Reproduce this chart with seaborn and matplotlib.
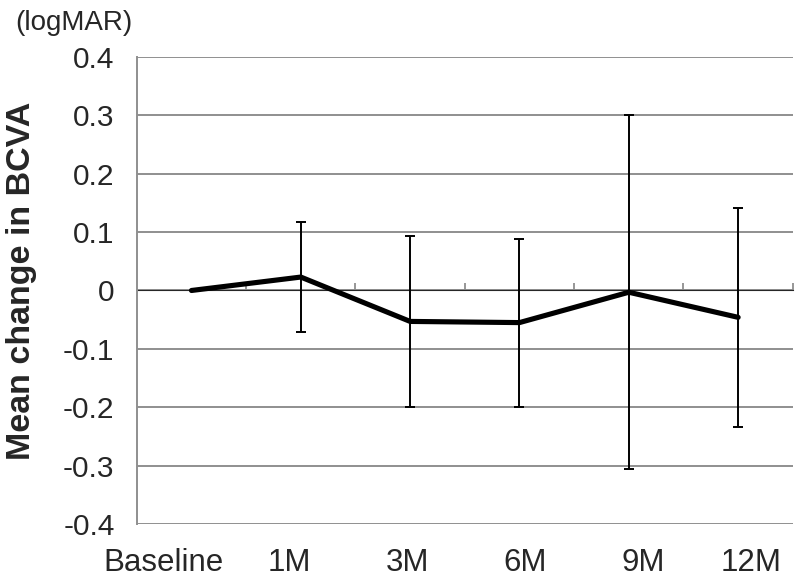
import numpy as np
import pandas as pd
import matplotlib
matplotlib.use("Agg")
import matplotlib.pyplot as plt
import seaborn as sns

# Values
timepoints = ["Baseline", "1M", "3M", "6M", "9M", "12M"]
mean_change = [0.0, 0.023, -0.053, -0.055, -0.003, -0.046]
sd = [np.nan, 0.094, 0.146, 0.144, 0.303, 0.188]
y_ticks = [0.4, 0.3, 0.2, 0.1, 0, -0.1, -0.2, -0.3, -0.4]
y_tick_labels = ["0.4", "0.3", "0.2", "0.1", "0", "-0.1", "-0.2", "-0.3", "-0.4"]

# the category labels in the original are not centred under their points
label_shift = [-0.26, -0.10, -0.02, 0.05, 0.13, 0.12]

df = pd.DataFrame({"time": timepoints, "change": mean_change, "sd": sd})
df["pos"] = range(len(df))

sns.set_style("white")
plt.rcParams["font.family"] = ["Liberation Sans", "DejaVu Sans"]

fig = plt.figure(figsize=(8, 5.79), dpi=100)
ax = fig.add_axes([0.171, 0.095, 0.82, 0.8066])

grid_col = "#8f8f8f"
for v in y_ticks:
    ax.axhline(v, color=grid_col, lw=1.4, zorder=0)

sns.lineplot(data=df, x="pos", y="change", color="black", lw=3.7,
             ax=ax, zorder=3)
ax.errorbar(df["pos"], df["change"], yerr=df["sd"], fmt="none",
            ecolor="black", elinewidth=1.4, capsize=3.3, capthick=1.4,
            zorder=2)

ax.set_xlim(-0.5, len(timepoints) - 0.5)
ax.set_ylim(-0.4, 0.4)
ax.set_xticks(df["pos"] + np.array(label_shift))
ax.set_xticklabels(timepoints, fontsize=22.5)
ax.tick_params(axis="x", length=0, pad=17)
ax.set_yticks(y_ticks)
ax.set_yticklabels(y_tick_labels, fontsize=21.5)
ax.tick_params(axis="y", length=6, width=1.4, color=grid_col, direction="out", pad=10)

for side in ["top", "right", "bottom"]:
    ax.spines[side].set_visible(False)
ax.spines["left"].set_color(grid_col)
ax.spines["left"].set_linewidth(1.4)

# category boundary ticks on the zero line
zero_axis = ax.secondary_xaxis(0.5)
zero_axis.set_xticks(np.arange(0.5, len(timepoints), 1.0))
zero_axis.set_xticklabels([])
zero_axis.tick_params(length=5, width=1.3, color=grid_col, direction="out")
zero_axis.spines["bottom"].set_color(grid_col)
zero_axis.spines["bottom"].set_linewidth(1.4)

ax.set_xlabel("")
ax.set_ylabel("")
fig.text(22 / 800, 298 / 579, "Mean change in BCVA", rotation=90,
         fontsize=24.5, fontweight="bold", ha="center", va="center")
fig.text(15 / 800, 1 - 23 / 579, "(logMAR)", fontsize=20, va="center", ha="left")

fig.savefig("out.png", dpi=100)
